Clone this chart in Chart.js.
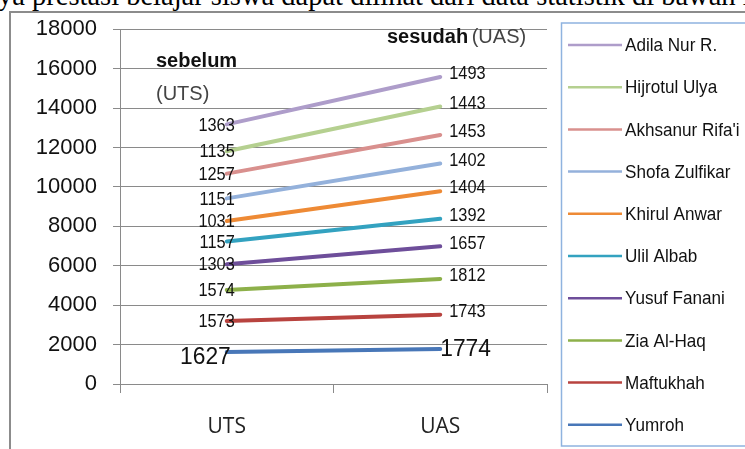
<!DOCTYPE html>
<html>
<head>
<meta charset="utf-8">
<script src="https://cdn.jsdelivr.net/npm/chart.js@4.4.1/dist/chart.umd.min.js"></script>
<style>
  html, body { margin: 0; padding: 0; background: #fff; overflow: hidden; }
  #wrap { position: relative; width: 745px; height: 449px; overflow: hidden; }
  #caption {
    position: absolute; left: -2px; top: -18px; white-space: nowrap;
    font: 28.5px "Liberation Serif", "Times New Roman", serif; line-height: 28px; color: #000;
  }
  #frame {
    position: absolute; left: 9px; top: 11px; width: 760px; height: 460px;
    border: 2px solid #8c8c8c; box-sizing: border-box;
  }
  canvas { position: absolute; left: 0; top: 0; }
</style>
</head>
<body>
<div id="wrap">
  <div id="caption">ya prestasi belajar siswa dapat dilihat dari data statistik di bawah ini</div>
  <div id="frame"></div>
  <canvas id="c" width="745" height="449"></canvas>
</div>
<script>
// Exam periods
const categories = ['UTS', 'UAS'];

// Students, bottom of the stack first
const students = ['Yumroh', 'Maftukhah', 'Zia Al-Haq', 'Yusuf Fanani', 'Ulil Albab',
                  'Khirul Anwar', 'Shofa Zulfikar', "Akhsanur Rifa'i", 'Hijrotul Ulya', 'Adila Nur R.'];

// Scores per student: [UTS, UAS]
const yumroh      = [1627, 1774];
const maftukhah   = [1573, 1743];
const ziaAlHaq    = [1574, 1812];
const yusufFanani = [1303, 1657];
const ulilAlbab   = [1157, 1392];
const khirulAnwar = [1031, 1404];
const shofa       = [1151, 1402];
const akhsanur    = [1257, 1453];
const hijrotul    = [1135, 1443];
const adila       = [1363, 1493];

const seriesValues = [yumroh, maftukhah, ziaAlHaq, yusufFanani, ulilAlbab,
                      khirulAnwar, shofa, akhsanur, hijrotul, adila];

const lineColors = ['#4877B8', '#B8433F', '#8DB04A', '#6E4E9A', '#33A2C0',
                    '#EE8A35', '#94B1DB', '#D9908E', '#B5D090', '#AE9DCA'];

// Value axis ticks
const yTicks = [0, 2000, 4000, 6000, 8000, 10000, 12000, 14000, 16000, 18000];

const SANS = '"Liberation Sans", Arial, sans-serif';

const datasets = students.map((name, i) => ({
  label: name,
  data: seriesValues[i],
  borderColor: lineColors[i],
  backgroundColor: lineColors[i],
  borderWidth: 4,
  borderCapStyle: 'round',
  pointRadius: 0,
  pointHoverRadius: 0,
  fill: false,
  tension: 0
}));

// Draws text squeezed horizontally (a condensed face)
function condensedText(ctx, text, x, y, align, sx) {
  ctx.save();
  ctx.translate(x, y);
  ctx.scale(sx, 1);
  ctx.textAlign = align;
  ctx.fillText(text, 0, 0);
  ctx.restore();
}

// Value labels at both ends of each line
const valueLabels = {
  id: 'valueLabels',
  afterDatasetsDraw(chart) {
    const ctx = chart.ctx;
    ctx.save();
    ctx.fillStyle = '#111';
    ctx.textBaseline = 'middle';
    chart.data.datasets.forEach((ds, i) => {
      const meta = chart.getDatasetMeta(i);
      const p0 = meta.data[0], p1 = meta.data[1];
      if (i === 0) {
        ctx.font = '24px ' + SANS;
        condensedText(ctx, String(ds.data[0]), p0.x + 4, p0.y + 5, 'right', 0.95);
        condensedText(ctx, String(ds.data[1]), p1.x, p1.y, 'left', 0.95);
      } else {
        ctx.font = '19px ' + SANS;
        condensedText(ctx, String(ds.data[0]), p0.x + 8, p0.y + 1, 'right', 0.86);
        condensedText(ctx, String(ds.data[1]), p1.x + 9, p1.y - 3, 'left', 0.86);
      }
    });
    ctx.restore();
  }
};

// Period captions inside the plot
const periodNotes = {
  id: 'periodNotes',
  afterDraw(chart) {
    const ctx = chart.ctx;
    ctx.save();
    ctx.textBaseline = 'middle';
    ctx.textAlign = 'left';
    ctx.fillStyle = '#111';
    ctx.font = 'bold 20px ' + SANS;
    ctx.fillText('sebelum', 156, 61);
    ctx.fillStyle = '#444';
    ctx.font = '20px ' + SANS;
    ctx.fillText('(UTS)', 156, 94);
    ctx.fillStyle = '#111';
    ctx.font = 'bold 20px ' + SANS;
    ctx.fillText('sesudah', 387, 37);
    const w = ctx.measureText('sesudah ').width;
    ctx.fillStyle = '#444';
    ctx.font = '20px ' + SANS;
    ctx.fillText('(UAS)', 387 + w - 2, 37);
    ctx.restore();
  }
};

// Boxed legend on the right, top entry = top of the stack
const sideLegend = {
  id: 'sideLegend',
  afterDraw(chart) {
    const ctx = chart.ctx;
    ctx.save();
    ctx.strokeStyle = '#8FB3DF';
    ctx.lineWidth = 1.5;
    ctx.strokeRect(561.5, 23, 220, 423);
    const n = chart.data.datasets.length;
    ctx.font = '19px ' + SANS;
    ctx.textBaseline = 'middle';
    for (let k = 0; k < n; k++) {
      const ds = chart.data.datasets[n - 1 - k];
      const y = 45 + k * 42.2;
      ctx.strokeStyle = ds.borderColor;
      ctx.lineWidth = 2.5;
      ctx.beginPath();
      ctx.moveTo(568, y);
      ctx.lineTo(622, y);
      ctx.stroke();
      ctx.fillStyle = '#111';
      condensedText(ctx, ds.label, 625, y + 1, 'left', 0.9);
    }
    ctx.restore();
  }
};

new Chart(document.getElementById('c'), {
  type: 'line',
  data: { labels: categories, datasets },
  options: {
    responsive: false,
    animation: false,
    events: [],
    layout: { padding: { left: 0, top: 25, right: 198, bottom: 0 } },
    plugins: { legend: { display: false }, tooltip: { enabled: false } },
    scales: {
      x: {
        offset: true,
        grid: { offset: true, drawOnChartArea: false, tickLength: 9, color: '#8a8a8a' },
        border: { display: true, color: '#8a8a8a' },
        ticks: { font: { family: '"Open Sans", "Liberation Sans", sans-serif', size: 21 }, color: '#222', padding: 21 },
        afterFit(scale) { scale.height = 65; }
      },
      y: {
        stacked: true,
        min: yTicks[0],
        max: yTicks[yTicks.length - 1],
        afterBuildTicks(scale) { scale.ticks = yTicks.map(v => ({ value: v })); },
        grid: { tickLength: 7, color: '#8a8a8a' },
        border: { display: true, color: '#8a8a8a' },
        ticks: {
          font: { family: SANS, size: 22 }, color: '#111', padding: 16,
          callback: v => String(v)
        },
        afterFit(scale) { scale.width = 120; }
      }
    }
  },
  plugins: [valueLabels, periodNotes, sideLegend]
});
</script>
</body>
</html>
